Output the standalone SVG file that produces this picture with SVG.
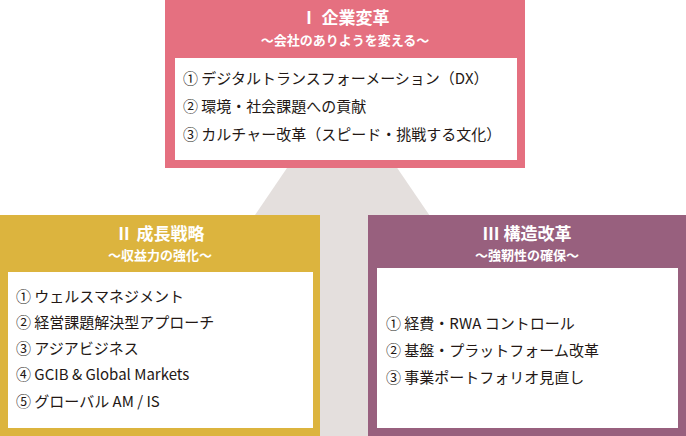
<svg xmlns="http://www.w3.org/2000/svg" width="686" height="436" viewBox="0 0 686 436">
<style>
text{font-family:"Noto Sans CJK JP","Noto Sans",sans-serif}
.h{fill:#fff;font-weight:bold;font-size:17px;text-anchor:middle}
.s{fill:#fff;font-weight:bold;font-size:13px;text-anchor:middle}
.t{fill:#231815;font-size:15px}
.w{fill:#fff}
</style>
<rect width="686" height="436" fill="#fff"/>
<polygon points="342,87 105,436 580,436" fill="#e4dfdd"/>
<g id="top">
<rect x="165" y="0" width="360" height="168" fill="#e57080"/>
<rect class="w" x="175" y="58" width="342" height="102"/>
<text class="h" x="345" y="24">Ⅰ 企業変革</text>
<text class="s" x="345" y="45">〜会社のありようを変える〜</text>
<text class="t" x="183" y="84">① デジタルトランスフォーメーション（DX）</text>
<text class="t" x="183" y="112">② 環境・社会課題への貢献</text>
<text class="t" x="183" y="140">③ カルチャー改革（スピード・挑戦する文化）</text>
</g>
<g id="left">
<rect x="0" y="215" width="320" height="221" fill="#dcb43e"/>
<rect class="w" x="8" y="272" width="305" height="156"/>
<text class="h" x="160" y="240">Ⅱ 成長戦略</text>
<text class="s" x="160" y="260">〜収益力の強化〜</text>
<text class="t" x="16" y="302">① ウェルスマネジメント</text>
<text class="t" x="16" y="328">② 経営課題解決型アプローチ</text>
<text class="t" x="16" y="354">③ アジアビジネス</text>
<text class="t" x="16" y="380">④ GCIB &amp; Global Markets</text>
<text class="t" x="16" y="407">⑤ グローバル AM / IS</text>
</g>
<g id="right">
<rect x="368" y="215" width="318" height="221" fill="#98607e"/>
<rect class="w" x="377" y="268" width="301" height="160"/>
<text class="h" x="527" y="240">Ⅲ 構造改革</text>
<text class="s" x="527" y="260">〜強靭性の確保〜</text>
<text class="t" x="386" y="329">① 経費・RWA コントロール</text>
<text class="t" x="386" y="356">② 基盤・プラットフォーム改革</text>
<text class="t" x="386" y="383">③ 事業ポートフォリオ見直し</text>
</g>
<g id="connectors"/>
</svg>
